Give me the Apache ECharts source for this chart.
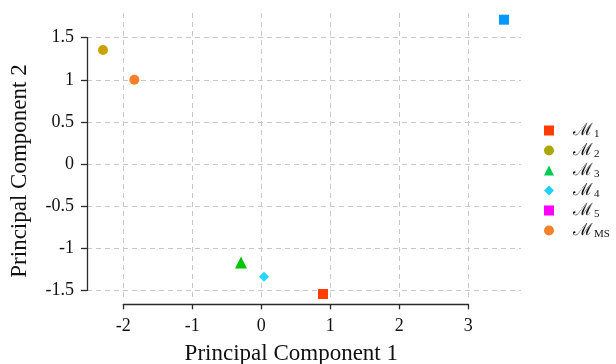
<!DOCTYPE html>
<html>
<head>
<meta charset="utf-8">
<script src="https://cdn.jsdelivr.net/npm/echarts@6/dist/echarts.min.js"></script>
<style>
  html, body { margin: 0; padding: 0; background: #fff; }
  #chart { width: 616px; height: 364px; }
</style>
</head>
<body>
<div id="chart"></div>
<script>
// datos
const modelos = ["1", "2", "3", "4", "5", "MS"];
const pc1 = [0.894, -2.294, -0.294, 0.039, 3.517, -1.84];
const pc2 = [-1.544, 1.354, -1.17, -1.338, 1.714, 1.0];
const simbolos = ["rect", "circle", "triangle", "diamond", "rect", "circle"];
const tamanos = [10, 10, 12, 10, 10, 10];
const coloresPunto = ["#ff3d00", "#c9a200", "#00c400", "#22d8ff", "#0099ff", "#f78028"];
const coloresLeyenda = ["#ff3d00", "#a8a800", "#00cc55", "#22d0ff", "#ff00ff", "#f78028"];

const fuente = "Liberation Serif";
const colorEje = "#2a2a2a";
const rejilla = { show: true, lineStyle: { color: "#c8c8c8", type: [5, 4], width: 1 } };

const series = modelos.map((m, i) => ({
  name: m,
  type: "scatter",
  xAxisIndex: 0,
  yAxisIndex: 0,
  clip: false,
  symbol: simbolos[i],
  symbolSize: tamanos[i],
  itemStyle: { color: coloresPunto[i], opacity: 1 },
  data: [[pc1[i], pc2[i]]],
  z: 5,
}));

var option = {
  animation: false,
  backgroundColor: "#fff",
  grid: [
    // ejes y datos
    { left: 123.3, top: 37.7, width: 345, height: 252.6, outerBoundsMode: "none", containLabel: false },
    // rejilla vertical
    { left: 123.3, top: 13, width: 345, height: 287, outerBoundsMode: "none", containLabel: false },
    // rejilla horizontal
    { left: 87, top: 37.7, width: 434, height: 252.6, outerBoundsMode: "none", containLabel: false },
  ],
  xAxis: [
    {
      gridIndex: 0,
      type: "value",
      min: -2,
      max: 3,
      interval: 1,
      offset: 14,
      name: "Principal Component 1",
      nameLocation: "middle",
      nameGap: 38,
      nameTextStyle: { fontFamily: fuente, fontSize: 23, color: "#111", padding: [0, 9, 0, 0] },
      axisLine: { show: true, onZero: false, lineStyle: { color: colorEje, width: 1.3 } },
      axisTick: { show: true, inside: false, length: 5, lineStyle: { color: colorEje, width: 1.3 } },
      axisLabel: { fontFamily: fuente, fontSize: 18, color: "#111", margin: 13 },
      splitLine: { show: false },
    },
    {
      gridIndex: 1, type: "value", min: -2, max: 3, interval: 1,
      axisLine: { show: false, onZero: false }, axisTick: { show: false }, axisLabel: { show: false },
      splitLine: rejilla,
    },
    {
      gridIndex: 2, type: "value", min: 0, max: 1, show: false,
    },
  ],
  yAxis: [
    {
      gridIndex: 0,
      type: "value",
      min: -1.5,
      max: 1.5,
      interval: 0.5,
      offset: 36.3,
      name: "Principal Component 2",
      nameLocation: "middle",
      nameGap: 56,
      nameTextStyle: { fontFamily: fuente, fontSize: 23, color: "#111", padding: [0, 14, 0, 0] },
      axisLine: { show: true, onZero: false, lineStyle: { color: colorEje, width: 1.3 } },
      axisTick: { show: true, inside: false, length: 6, lineStyle: { color: colorEje, width: 1.3 } },
      axisLabel: { fontFamily: fuente, fontSize: 18, color: "#111", margin: 13 },
      splitLine: { show: false },
    },
    {
      gridIndex: 1, type: "value", min: 0, max: 1, show: false,
    },
    {
      gridIndex: 2, type: "value", min: -1.5, max: 1.5, interval: 0.5,
      axisLine: { show: false, onZero: false }, axisTick: { show: false }, axisLabel: { show: false },
      splitLine: rejilla,
    },
  ],
  legend: {
    orient: "vertical",
    left: 539,
    top: 116,
    itemWidth: 10,
    itemHeight: 10,
    itemGap: 1,
    data: modelos.map((m, i) => ({
      name: m,
      icon: simbolos[i],
      itemStyle: { color: coloresLeyenda[i] },
    })),
    formatter: function (name) {
      return "{m|\u2133}{s|" + name + "}";
    },
    textStyle: {
      rich: {
        m: { fontFamily: "DejaVu Serif", fontSize: 17, color: "#111", padding: [0, 0, 0, 14], lineHeight: 16 },
        s: { fontFamily: fuente, fontSize: 11, color: "#111", padding: [8, 0, 0, 1], lineHeight: 12 },
      },
    },
  },
  series: series,
};

var dom = document.getElementById("chart");
var myChart = echarts.init(dom, null, { renderer: "canvas" });
myChart.setOption(option);
</script>
</body>
</html>
